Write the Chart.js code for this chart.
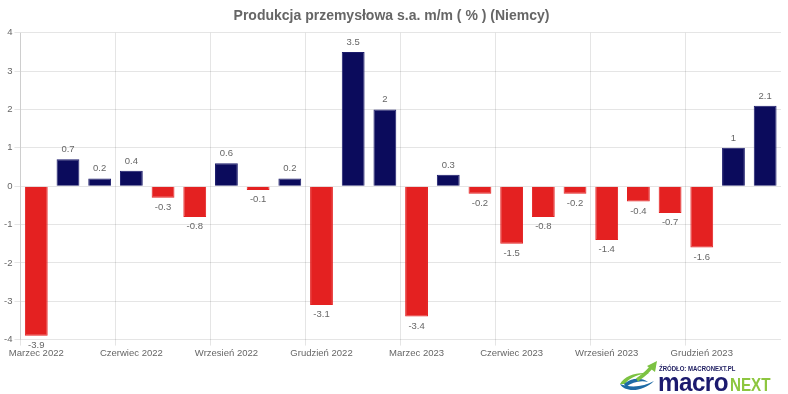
<!DOCTYPE html>
<html>
<head>
<meta charset="utf-8">
<script src="https://cdn.jsdelivr.net/npm/chart.js@4.4.1/dist/chart.umd.min.js"></script>
<style>
html,body{margin:0;padding:0;background:#fff;}
#wrap{position:relative;width:788px;height:394px;overflow:hidden;}
#c{position:absolute;left:0;top:0;}
.src{position:absolute;left:659px;top:364px;font:bold 8px Arial,'Liberation Sans',sans-serif;color:#1b1a5e;white-space:nowrap;transform:scaleX(0.75);transform-origin:0 0;line-height:10px;}
.brand{position:absolute;left:658px;top:370px;white-space:nowrap;line-height:24px;font-family:Arial,'Liberation Sans',sans-serif;font-weight:bold;}
.brand .m{display:inline-block;font-size:25px;color:#1b1a6e;transform:scaleX(0.97);transform-origin:0 100%;letter-spacing:-0.6px;}
.brand .n{display:inline-block;font-size:19px;color:#8dc63f;transform:scaleX(0.8);transform-origin:0 100%;}
#swoosh{position:absolute;left:618px;top:360px;}
</style>
</head>
<body>
<div id="wrap">
<canvas id="c" width="788" height="394"></canvas>
<svg id="swoosh" width="42" height="34" viewBox="0 0 42 34">
  <path d="M2 24 C 7 14, 24 11, 33 14 C 26 13, 12 16, 7 24 Z" fill="#7cc242"/>
  <path d="M2 24 C 6 32, 24 33, 36 21 C 26 27, 12 28, 2 24 Z" fill="#1d6aa5"/>
  <path d="M6 24 C 13 18, 23 17, 30 22 C 23 20, 14 22, 8 27 Z" fill="#1d6aa5"/>
  <path d="M19 20 C 26 15, 31 11, 34 6" stroke="#7cc242" stroke-width="3.5" fill="none"/>
  <path d="M29 6 L 39 1 L 37 12 Z" fill="#7cc242"/>
</svg>
<div class="src">ŹRÓDŁO: MACRONEXT.PL</div>
<div class="brand"><span class="m">macro</span><span class="n">NEXT</span></div>
</div>
<script>
const categories = ["Marzec 2022","Kwiecień 2022","Maj 2022","Czerwiec 2022","Lipiec 2022","Sierpień 2022","Wrzesień 2022","Październik 2022","Listopad 2022","Grudzień 2022","Styczeń 2023","Luty 2023","Marzec 2023","Kwiecień 2023","Maj 2023","Czerwiec 2023","Lipiec 2023","Sierpień 2023","Wrzesień 2023","Październik 2023","Listopad 2023","Grudzień 2023","Styczeń 2024","Luty 2024"];
const values = [-3.9,0.7,0.2,0.4,-0.3,-0.8,0.6,-0.1,0.2,-3.1,3.5,2,-3.4,0.3,-0.2,-1.5,-0.8,-0.2,-1.4,-0.4,-0.7,-1.6,1,2.1];
const yTicks = [-4,-3,-2,-1,0,1,2,3,4];
const titleText = "Produkcja przemysłowa s.a. m/m ( % ) (Niemcy)";
const labelEvery = 3;

const POS = '#0b0b5c', NEG = '#e42121';
const FONT = "Arial, 'Liberation Sans', sans-serif";
Chart.defaults.font.family = FONT;
Chart.defaults.color = '#666';

const valueLabels = {
  id: 'valueLabels',
  afterDatasetsDraw(chart) {
    const ctx = chart.ctx;
    const meta = chart.getDatasetMeta(0);
    const data = chart.data.datasets[0].data;
    ctx.save();
    ctx.font = '9.5px ' + FONT;
    ctx.fillStyle = '#666';
    ctx.textAlign = 'center';
    meta.data.forEach((el, i) => {
      const v = data[i];
      if (v >= 0) {
        ctx.textBaseline = 'bottom';
        ctx.fillText(String(v), el.x, el.y - 5);
      } else {
        ctx.textBaseline = 'top';
        ctx.fillText(String(v), el.x, el.y + 5);
      }
    });
    ctx.restore();
  }
};

new Chart(document.getElementById('c'), {
  type: 'bar',
  data: {
    labels: categories,
    datasets: [{
      data: values,
      backgroundColor: values.map(v => v >= 0 ? POS : NEG),
      borderColor: values.map(v => v >= 0 ? '#1c1c6c' : NEG),
      borderWidth: 1
    }]
  },
  options: {
    responsive: false,
    animation: false,
    layout: { padding: { left: 2, right: 7, top: 0, bottom: 33 } },
    plugins: {
      legend: { display: false },
      tooltip: { enabled: false },
      title: {
        display: true,
        text: titleText,
        color: '#666',
        font: { size: 14, weight: 'bold', family: FONT },
        padding: { top: 8, bottom: 8 }
      }
    },
    scales: {
      x: {
        grid: {
          offset: true,
          color: c => (c.index !== undefined && c.index % labelEvery === 0 && c.type === 'tick') ? 'rgba(0,0,0,0.1)' : 'rgba(0,0,0,0)',
          tickLength: 6
        },
        border: { display: false },
        ticks: {
          autoSkip: false,
          maxRotation: 0,
          padding: 2,
          font: { size: 9.5 },
          color: '#666',
          callback: (val, idx) => idx % labelEvery === 0 ? categories[idx] : ''
        }
      },
      y: {
        min: -4,
        max: 4,
        afterBuildTicks: s => { s.ticks = yTicks.map(v => ({ value: v })); },
        grid: { color: 'rgba(0,0,0,0.1)', tickLength: 6 },
        border: { color: 'rgba(0,0,0,0.1)' },
        ticks: { padding: 2, font: { size: 9.5 }, color: '#666' }
      }
    }
  },
  plugins: [valueLabels]
});
</script>
</body>
</html>
